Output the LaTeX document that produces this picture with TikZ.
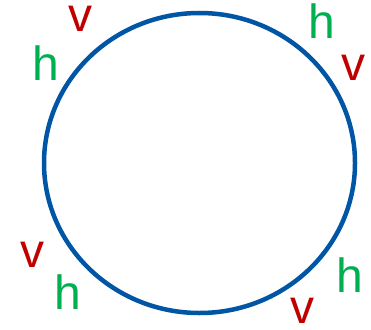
\documentclass[tikz,border=0pt]{standalone}
\usepackage{fontspec}
\setmainfont{Liberation Sans}
\usetikzlibrary{positioning}

\definecolor{ringblue}{RGB}{0,86,164}
\definecolor{hgreen}{RGB}{0,176,80}
\definecolor{vred}{RGB}{192,0,0}

\tikzset{
  lbl/.style={anchor=base, inner sep=0pt, font=\fontsize{48}{48}\selectfont},
  hlbl/.style={lbl, text=hgreen},
  vlbl/.style={lbl, text=vred}
}

\begin{document}
\begin{tikzpicture}[x=1pt, y=-1pt]
\useasboundingbox (0,0) rectangle (371,329);

% ring
\draw[ringblue, line width=4.5pt] (199.5,163) ellipse [x radius=155.5, y radius=150];

% labels round the ring
\foreach \name/\x/\y/\sty/\txt in {v1/80/32/vlbl/v, h1/46/80/hlbl/h,
    h2/322/38/hlbl/h, v2/353/80/vlbl/v,
    v3/32/267/vlbl/v, h3/68/309/hlbl/h,
    h4/350/292/hlbl/h, v4/302/323/vlbl/v} {
    \node[\sty] (\name) at (\x,\y) {\txt};
}

\end{tikzpicture}
\end{document}
